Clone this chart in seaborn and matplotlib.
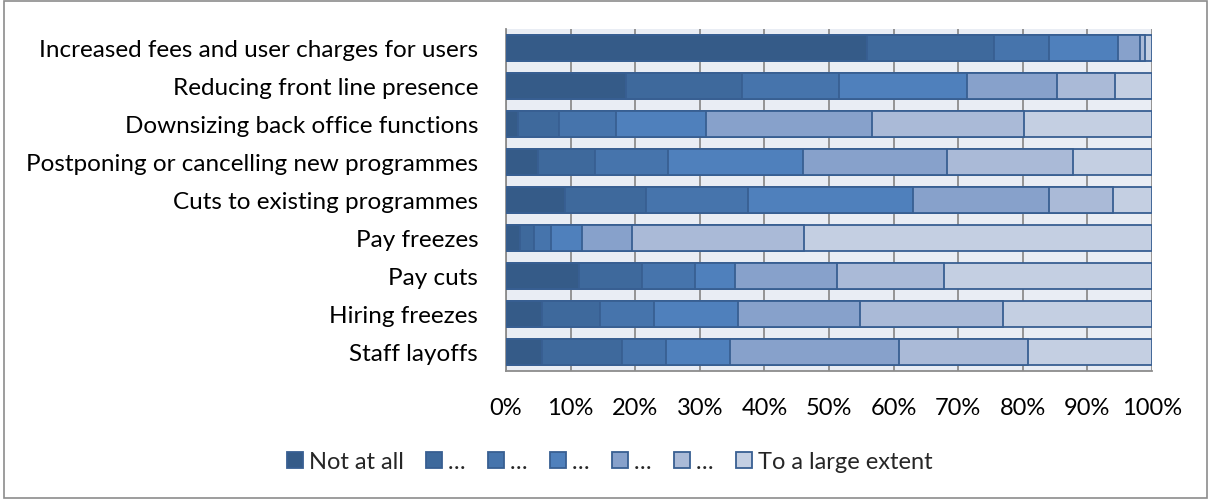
import matplotlib
matplotlib.use("Agg")
import matplotlib.pyplot as plt
from matplotlib.patches import Patch, Rectangle
from matplotlib.ticker import FixedLocator, PercentFormatter
import numpy as np
import pandas as pd
import seaborn as sns

# Survey responses: share of respondents (%) per response level
measures = [
    "Increased fees and user charges for users",
    "Reducing front line presence",
    "Downsizing back office functions",
    "Postponing or cancelling new programmes",
    "Cuts to existing programmes",
    "Pay freezes",
    "Pay cuts",
    "Hiring freezes",
    "Staff layoffs",
]
levels = ["Not at all", "\u2026", "\u2026", "\u2026", "\u2026", "\u2026", "To a large extent"]

level_1 = [55.9, 18.5, 1.8, 4.9, 9.2, 2.2, 11.3, 5.5, 5.5]
level_2 = [19.7, 18.1, 6.4, 8.9, 12.5, 2.2, 9.7, 9.0, 12.5]
level_3 = [8.4, 15.0, 8.9, 11.3, 15.7, 2.6, 8.2, 8.4, 6.7]
level_4 = [10.7, 19.8, 13.8, 20.9, 25.6, 4.8, 6.3, 13.0, 10.0]
level_5 = [3.5, 13.9, 25.8, 22.2, 21.0, 7.7, 15.8, 18.9, 26.2]
level_6 = [0.7, 9.0, 23.5, 19.5, 9.9, 26.6, 16.5, 22.2, 19.9]
level_7 = [1.1, 5.7, 19.8, 12.3, 6.1, 53.9, 32.2, 23.0, 19.2]

colors = ["#355b88", "#3e699c", "#4674ac", "#4f80bc", "#87a1cb", "#aabad7", "#c4cfe2"]
edge = "#385f92"

values = np.array([level_1, level_2, level_3, level_4, level_5, level_6, level_7])
cum = values.cumsum(axis=0)
cum = cum / cum[-1] * 100  # rows sum to 100%

df = pd.DataFrame({"measure": np.tile(measures, len(levels)),
                   "level_idx": np.repeat(np.arange(len(levels)), len(measures)),
                   "cum": cum.ravel()})

sns.set_theme(style="white")
plt.rcParams["font.family"] = ["Lato", "DejaVu Sans"]

fig = plt.figure(figsize=(12.12, 5.02), dpi=100)
ax = fig.add_axes([506 / 1212, 1 - 372 / 502, (1152 - 506) / 1212, (372 - 30) / 502])
ax.set_facecolor("#e9edf4")

# Stacked bars: draw cumulative totals from the outermost level inward
for i in range(len(levels) - 1, -1, -1):
    sub = df[df["level_idx"] == i]
    sns.barplot(data=sub, x="cum", y="measure", order=measures, orient="h",
                color=colors[i], saturation=1, width=0.68,
                edgecolor=edge, linewidth=1.3, ax=ax, zorder=3)

ax.set_xlim(0, 100)
ax.set_ylim(len(measures) - 0.5, -0.5)
ax.xaxis.set_major_locator(FixedLocator(np.arange(0, 101, 10)))
ax.xaxis.set_major_formatter(PercentFormatter(decimals=0))
ax.grid(axis="x", color="#8c8c8c", linewidth=1.3, zorder=0)
ax.grid(axis="y", visible=False)
ax.set_axisbelow(True)
ax.set_xlabel("")
ax.set_ylabel("")

ax.yaxis.set_minor_locator(FixedLocator(np.arange(-0.5, len(measures), 1)))
ax.tick_params(axis="y", which="major", length=0, pad=20, labelsize=17.5, colors="black")
ax.tick_params(axis="y", which="minor", length=6, width=1.3, color="#8c8c8c", direction="out")
ax.tick_params(axis="x", which="major", length=6, width=1.3, color="#8c8c8c",
               direction="out", pad=13, labelsize=17, labelcolor="black")

for side in ["top", "right"]:
    ax.spines[side].set_visible(False)
for side in ["left", "bottom"]:
    ax.spines[side].set_color("#8c8c8c")
    ax.spines[side].set_linewidth(1.3)

handles = [Patch(facecolor=c, edgecolor=edge, linewidth=1.3) for c in colors]
fig.legend(handles, levels, loc="center", bbox_to_anchor=(0.503, 1 - 463 / 502), ncol=7,
           frameon=False, fontsize=17, handlelength=0.68, handleheight=0.68,
           handletextpad=0.25, columnspacing=0.95)

fig.add_artist(Rectangle((0.003, 0.006), 0.993, 0.99, transform=fig.transFigure,
                         fill=False, edgecolor="#8c8c8c", linewidth=1.2))

fig.savefig("out.png", dpi=100)
